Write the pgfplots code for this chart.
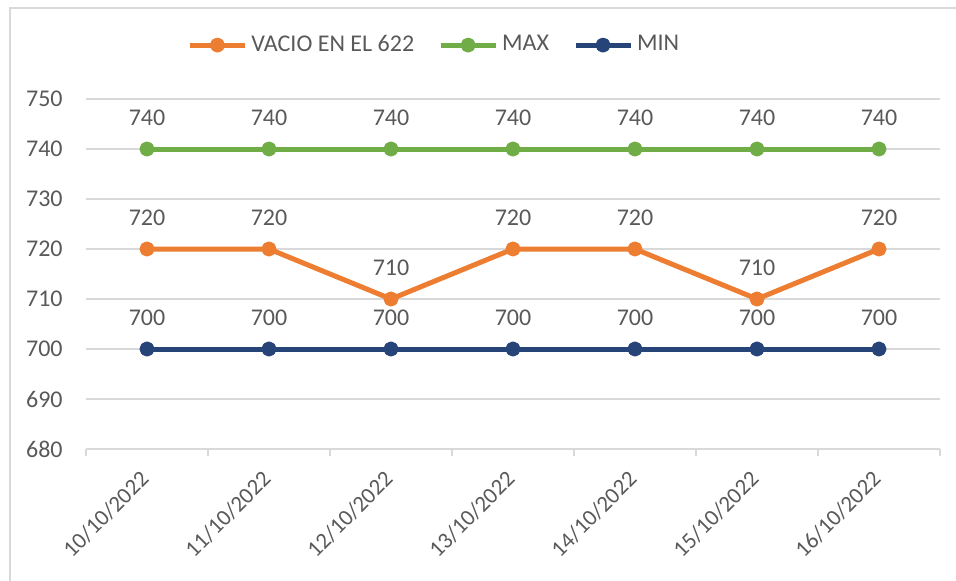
\documentclass[border=0pt]{standalone}
\usepackage{pgfplots}
\pgfplotsset{compat=1.18}
\usepackage{fontspec}
\setmainfont{Carlito}
\definecolor{cOrange}{HTML}{ED7D31}
\definecolor{cGreen}{HTML}{70AD47}
\definecolor{cBlue}{HTML}{264478}
\definecolor{cText}{HTML}{595959}
\definecolor{cGrid}{HTML}{D9D9D9}
\begin{document}
\fontsize{12pt}{14pt}\selectfont
\begin{tikzpicture}
\useasboundingbox (0pt,0pt) rectangle (478pt,290pt);
\clip (0pt,0pt) rectangle (478pt,290pt);
\draw[cGrid, line width=0.75pt] (5pt,-10pt) rectangle (490pt,286pt);
\begin{axis}[
    at={(43pt,65.5pt)}, anchor=south west,
    scale only axis, width=427pt, height=175pt,
    xmin=-0.5, xmax=6.5, ymin=680, ymax=750,
    ytick={680,690,...,750},
    xtick={0,...,6},
    xticklabels={10/10/2022,11/10/2022,12/10/2022,13/10/2022,14/10/2022,15/10/2022,16/10/2022},
    minor xtick={-0.5,0.5,...,6.5},
    major tick length=0pt, minor tick length=3.5pt,
    tick align=outside,
    axis x line*=bottom, axis y line*=left,
    x axis line style={cGrid, line width=0.75pt, -},
    y axis line style={draw=none},
    tick style={cGrid, line width=0.75pt},
    ymajorgrids, grid style={cGrid, line width=0.75pt},
    tick label style={text=cText, font=\fontsize{12pt}{14pt}\selectfont},
    /pgf/number format/assume math mode=true,
    yticklabel style={anchor=east, inner sep=0pt, xshift=-11.5pt},
    % shifts act in the rotated frame
    xticklabel style={rotate=45, anchor=north east, inner sep=0pt, xshift=-9.9pt, yshift=-4.1pt,
        font=\fontsize{11.4pt}{13pt}\selectfont},
    every axis plot/.append style={line width=2.5pt, line join=round, mark=*, mark size=2.5pt},
    nodes near coords,
    every node near coord/.append style={anchor=base, inner sep=0pt, yshift=11.75pt, text=cText, font=\fontsize{12pt}{14pt}\selectfont},
    legend columns=3,
    legend style={draw=none, fill=none, at={(axis description cs:0.409,1.154)}, anchor=center,
        text=cText, font=\fontsize{12pt}{14pt}\selectfont,
        /tikz/every even column/.append style={column sep=10pt}},
    legend image code/.code={\draw[mark repeat=2, mark phase=2, #1] plot coordinates {(0pt,0pt) (13.75pt,0pt) (27.5pt,0pt)};},
]
\addplot[color=cOrange] coordinates {(0,720) (1,720) (2,710) (3,720) (4,720) (5,710) (6,720)};
\addlegendentry{VACIO EN EL 622}
\addplot[color=cGreen] coordinates {(0,740) (1,740) (2,740) (3,740) (4,740) (5,740) (6,740)};
\addlegendentry{MAX}
\addplot[color=cBlue] coordinates {(0,700) (1,700) (2,700) (3,700) (4,700) (5,700) (6,700)};
\addlegendentry{MIN}
\end{axis}
\end{tikzpicture}
\end{document}
